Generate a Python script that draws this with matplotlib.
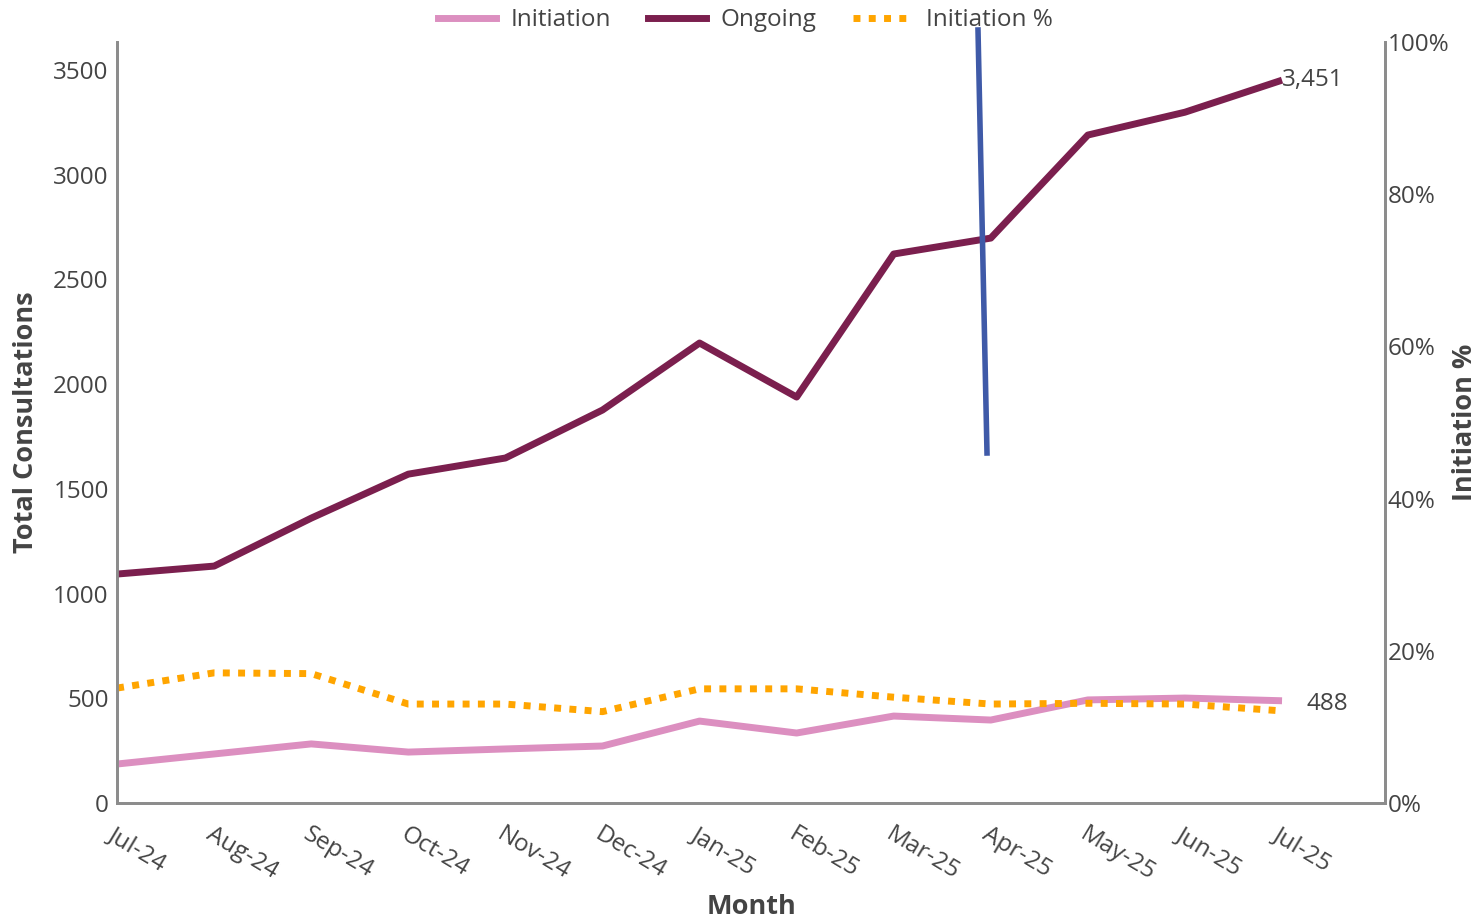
import matplotlib.pyplot as plt
from matplotlib.lines import Line2D

plt.rcParams['font.family'] = ['Open Sans', 'DejaVu Sans']

# data
months = ['Jul-24', 'Aug-24', 'Sep-24', 'Oct-24', 'Nov-24', 'Dec-24', 'Jan-25',
          'Feb-25', 'Mar-25', 'Apr-25', 'May-25', 'Jun-25', 'Jul-25']
ongoing = [1093, 1131, 1360, 1570, 1647, 1876, 2196, 1938, 2621, 2697, 3189, 3298, 3451]
initiation = [186, 234, 282, 243, 258, 272, 391, 334, 415, 396, 492, 501, 488]
initiation_pct = [0.151, 0.171, 0.170, 0.130, 0.130, 0.120, 0.150, 0.150, 0.139, 0.130, 0.131, 0.130, 0.121]

c_ong = '#7b1f4e'
c_ini = '#dc8fc0'
c_pct = '#ffa500'
c_txt = '#444444'
c_spine = '#8c8c8c'

fig = plt.figure(figsize=(14.82, 9.18), dpi=100)
ax = fig.add_axes([0.079, 0.1253, 0.8555, 0.8289])
ax2 = ax.twinx()

x = list(range(len(months)))
ax.plot(x, initiation, color=c_ini, lw=5, solid_capstyle='butt', label='Initiation', zorder=3)
ax.plot(x, ongoing, color=c_ong, lw=5, solid_capstyle='butt', label='Ongoing', zorder=3)
ax2.plot(x, initiation_pct, color=c_pct, lw=5, linestyle=(0, (1, 1.2)), label='Initiation %')

ax.set_xlim(0, 13.06)
ax.set_ylim(0, 3633)
ax2.set_ylim(0, 1)

ax.set_yticks(range(0, 3501, 500))
ax.set_yticklabels([str(v) for v in range(0, 3501, 500)])
ax2.set_yticks([0, 0.2, 0.4, 0.6, 0.8, 1.0])
ax2.set_yticklabels(['0%', '20%', '40%', '60%', '80%', '100%'])
ax.set_xticks(x)
ax.set_xticklabels(months, rotation=-31, ha='left', rotation_mode='anchor')

for a in (ax, ax2):
    a.tick_params(length=0, labelsize=17.5, labelcolor=c_txt)
    for s in a.spines.values():
        s.set_color(c_spine)
        s.set_linewidth(2)
    a.spines['top'].set_visible(False)
ax.tick_params(axis='x', pad=14)
ax.tick_params(axis='y', pad=6)
ax2.tick_params(axis='y', pad=2)

ax.set_xlabel('Month', fontsize=19.5, fontweight='bold', color=c_txt, labelpad=6)
ax.set_ylabel('Total Consultations', fontsize=19.5, fontweight='bold', color=c_txt, labelpad=10)
ax2.set_ylabel('Initiation %', fontsize=19.5, fontweight='bold', color=c_txt, labelpad=2)

# end labels
ax.text(x[-1], ongoing[-1], f'{ongoing[-1]:,}', fontsize=17.5, color=c_txt, ha='left', va='center')
ax.text(x[-1] + 0.25, initiation[-1] - 15, str(initiation[-1]), fontsize=17.5, color=c_txt,
        ha='left', va='center')

# legend on top
handles = [Line2D([], [], color=c_ini, lw=5),
           Line2D([], [], color=c_ong, lw=5),
           Line2D([], [], color=c_pct, lw=5, linestyle=(0, (1, 1.2)))]
fig.legend(handles, ['Initiation', 'Ongoing', 'Initiation %'], loc='center',
           bbox_to_anchor=(0.503, 0.978), ncol=3, frameon=False, fontsize=17.5,
           labelcolor=c_txt, handlelength=2.4, columnspacing=1.5, handletextpad=0.6)

# hand-drawn blue stroke
fig.add_artist(Line2D([978 / 1482, 987 / 1482], [1 - 30 / 918, 1 - 453 / 918],
                      color='#3f5aa8', lw=4, transform=fig.transFigure))

fig.savefig('out.png', dpi=100)
